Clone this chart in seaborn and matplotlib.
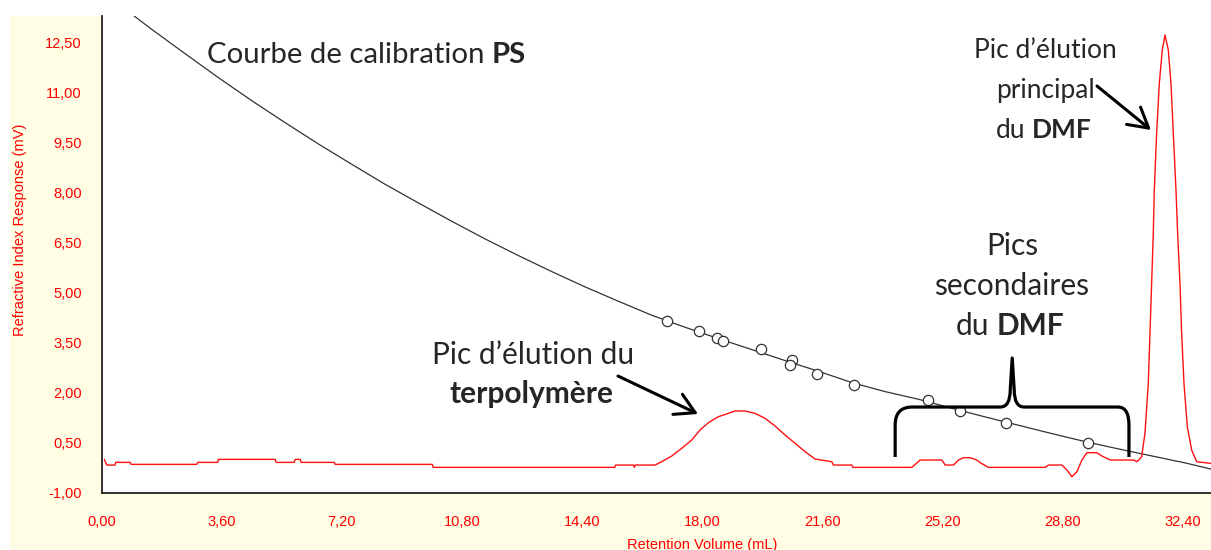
import matplotlib
matplotlib.use("Agg")
import matplotlib.pyplot as plt
import seaborn as sns
import pandas as pd
from matplotlib.patches import Rectangle, PathPatch
from matplotlib.path import Path
from matplotlib.ticker import FuncFormatter, MultipleLocator

# RI detector trace (mV) against retention volume (mL)
trace_volume = [0.08, 0.15, 0.40, 0.42, 0.85, 0.88, 2.85, 2.88, 3.48, 3.50, 5.20, 5.23, 5.77,
                5.80, 5.95, 5.98, 6.97, 7.00, 9.91, 9.94, 15.38, 15.41, 15.94, 15.97, 16.00,
                16.59, 16.79, 17.09, 17.39, 17.69, 17.94, 18.19, 18.49, 18.79, 18.99, 19.29,
                19.59, 19.89, 20.19, 20.49, 20.79, 21.09, 21.39, 21.89, 21.94, 22.49, 22.52,
                24.29, 24.54, 25.19, 25.29, 25.54, 25.69, 25.84, 26.04, 26.24, 26.34, 26.59,
                28.29, 28.39, 28.79, 28.94, 29.09, 29.24, 29.39, 29.54, 29.84, 29.99, 30.24,
                30.94, 31.04, 31.14, 31.18, 31.28, 31.38, 31.43, 31.48, 31.53, 31.56, 31.63,
                31.71, 31.80, 31.88, 31.98, 32.06, 32.13, 32.21, 32.26, 32.33, 32.38, 32.45,
                32.55, 32.68, 32.83, 33.26]
trace_response = [0.00, -0.17, -0.17, -0.09, -0.09, -0.15, -0.15, -0.09, -0.09, 0.00, 0.00, -0.09, -0.09,
                  0.00, 0.00, -0.09, -0.09, -0.15, -0.15, -0.24, -0.24, -0.17, -0.17, -0.24, -0.17,
                  -0.17, -0.07, 0.10, 0.33, 0.58, 0.88, 1.10, 1.28, 1.38, 1.45, 1.45,
                  1.38, 1.23, 1.00, 0.73, 0.48, 0.23, 0.01, -0.07, -0.17, -0.17, -0.24,
                  -0.24, -0.02, -0.02, -0.17, -0.17, -0.02, 0.05, 0.05, -0.02, -0.10, -0.24,
                  -0.24, -0.17, -0.17, -0.32, -0.52, -0.37, -0.02, 0.20, 0.20, 0.10, -0.02,
                  -0.02, -0.07, 0.03, 0.08, 0.78, 2.28, 3.78, 5.28, 6.78, 8.08, 9.78,
                  11.28, 12.28, 12.73, 12.28, 11.28, 9.78, 8.08, 6.78, 5.28, 3.78, 2.28,
                  0.98, 0.28, -0.07, -0.12]

# PS calibration curve drawn over the chromatogram
calib_volume = [0.5, 1.5, 2.5, 3.5, 4.5, 5.5, 6.5, 7.5, 8.5, 9.5, 10.5, 11.5, 12.5, 13.5,
                14.5, 15.5, 16.5, 17.5, 18.5, 19.5, 20.5, 21.5, 22.5, 23.5, 24.5, 25.5,
                26.5, 27.5, 28.5, 29.5, 30.5, 31.5, 32.5, 33.3]
calib_value = [13.66, 12.90, 12.17, 11.45, 10.76, 10.10, 9.46, 8.85, 8.25, 7.69, 7.14, 6.61,
               6.11, 5.63, 5.17, 4.74, 4.32, 3.96, 3.62, 3.29, 2.96, 2.64, 2.30, 2.03, 1.80,
               1.53, 1.27, 1.02, 0.77, 0.53, 0.31, 0.10, -0.11, -0.30]

# PS standards
std_volume = [16.94, 17.90, 18.45, 18.62, 19.76, 20.69, 20.64, 21.45, 22.56, 24.77, 25.73, 27.12, 29.58]
std_value = [4.15, 3.85, 3.63, 3.54, 3.31, 2.98, 2.82, 2.57, 2.22, 1.78, 1.46, 1.10, 0.50]

x_ticks = [0.0, 3.6, 7.2, 10.8, 14.4, 18.0, 21.6, 25.2, 28.8, 32.4]
y_ticks = [-1.0, 0.5, 2.0, 3.5, 5.0, 6.5, 8.0, 9.5, 11.0, 12.5]

W, H = 1211, 550
PANEL = "#FFFDE3"
TICK_FONT = "Liberation Sans"
NOTE_FONT = "Lato"

sns.set_style("white")
plt.rcParams["font.family"] = [TICK_FONT, "DejaVu Sans"]

trace = pd.DataFrame({"volume": trace_volume, "response": trace_response})
calib = pd.DataFrame({"volume": calib_volume, "value": calib_value})
stds = pd.DataFrame({"volume": std_volume, "value": std_value})

fig = plt.figure(figsize=(W / 100, H / 100), dpi=100, facecolor="white")
fig.patches.append(Rectangle((10 / W, 0), 1, 1 - 16 / H, transform=fig.transFigure,
                             facecolor=PANEL, edgecolor="none", zorder=-1))
ax = fig.add_axes([101.7 / W, 1 - 492.7 / H, 1 - 101.7 / W, (492.7 - 16) / H])
ax.set_facecolor("white")

sns.lineplot(data=calib, x="volume", y="value", ax=ax, color="#333333", linewidth=0.9,
             estimator=None, sort=False)
sns.lineplot(data=trace, x="volume", y="response", ax=ax, color="#FF1010", linewidth=1.0,
             estimator=None, sort=False)
sns.scatterplot(data=stds, x="volume", y="value", ax=ax, s=55, facecolor="white",
                edgecolor="#333333", linewidth=0.9, zorder=5)

ax.set_xlim(0, 33.26)
ax.set_ylim(-1.0, 13.30)
ax.set_xticks(x_ticks)
ax.set_yticks(y_ticks)
ax.xaxis.set_minor_locator(MultipleLocator(0.36))
ax.yaxis.set_minor_locator(MultipleLocator(0.1))
comma = FuncFormatter(lambda v, _: f"{v:.2f}".replace(".", ","))
ax.xaxis.set_major_formatter(comma)
ax.yaxis.set_major_formatter(comma)
ax.tick_params(which="major", direction="out", length=12.2, width=1.0, color="#333333",
               labelcolor="red", labelsize=10.5)
ax.tick_params(which="minor", direction="out", length=6, width=1.0, color="#333333")
ax.tick_params(axis="x", which="major", pad=3.5)
ax.tick_params(axis="y", which="major", pad=2)
for side in ["top", "right"]:
    ax.spines[side].set_visible(False)
for side in ["left", "bottom"]:
    ax.spines[side].set_color("#222222")
    ax.spines[side].set_linewidth(1.3)
ax.set_xlabel("")
ax.set_ylabel("")

fig.text(20 / W, 1 - 230 / H, "Refractive Index Response (mV)", rotation=90, color="red",
         fontsize=10.5, ha="center", va="center")
fig.text(702 / W, 1 - 545 / H, "Retention Volume (mL)", color="red", fontsize=10.5,
         ha="center", va="center")

renderer = fig.canvas.get_renderer()


def note_line(xc, base, parts, size, ha="center"):
    # parts: list of (text, weight); positioned in reference pixels
    texts = [fig.text(0, 1 - base / H, s, fontsize=size, fontweight=w,
                      family=NOTE_FONT, va="baseline") for s, w in parts]
    widths = [t.get_window_extent(renderer).width for t in texts]
    probe = fig.text(0, 0, "a a", fontsize=size, family=NOTE_FONT)
    probe2 = fig.text(0, 0, "aa", fontsize=size, family=NOTE_FONT)
    gap = probe.get_window_extent(renderer).width - probe2.get_window_extent(renderer).width
    probe.remove()
    probe2.remove()
    total = sum(widths) + gap * (len(parts) - 1)
    x = xc - total / 2 if ha == "center" else xc
    for t, wd in zip(texts, widths):
        t.set_x(x / W)
        x += wd + gap


note_line(207, 63, [("Courbe de calibration", "normal"), ("PS", "bold")], 21.2, ha="left")
note_line(1045, 58, [("Pic d\u2019élution", "normal")], 19)
note_line(1046, 98, [("principal", "normal")], 19)
note_line(1044, 138, [("du", "normal"), ("DMF", "bold")], 19)
note_line(1012, 255, [("Pics", "normal")], 21.5)
note_line(1012, 295, [("secondaires", "normal")], 21.5)
note_line(1010, 335, [("du", "normal"), ("DMF", "bold")], 21.5)
note_line(533, 364, [("Pic d\u2019élution du", "normal")], 21.5)
note_line(531, 403, [("terpolymère", "bold")], 21.5)

arrow = dict(arrowstyle="->,head_length=0.7,head_width=0.4", color="black", lw=2.2,
             shrinkA=0, shrinkB=0, mutation_scale=20)
ax.annotate("", xy=(698, H - 414), xytext=(618, H - 376), xycoords="figure pixels",
            textcoords="figure pixels", arrowprops=arrow)
ax.annotate("", xy=(1151, H - 130), xytext=(1097, H - 86), xycoords="figure pixels",
            textcoords="figure pixels", arrowprops=arrow)

# curly brace over the secondary DMF peaks
brace_pts = [(23.79, 0.07), (23.79, 1.03), (23.79, 1.57), (24.30, 1.57), (26.94, 1.57),
             (27.24, 1.57), (27.24, 2.08), (27.30, 3.04), (27.36, 2.08), (27.36, 1.57),
             (27.66, 1.57), (30.47, 1.57), (30.80, 1.57), (30.80, 1.03), (30.80, 0.07)]
brace_codes = [Path.MOVETO, Path.LINETO, Path.CURVE3, Path.CURVE3, Path.LINETO,
               Path.CURVE3, Path.CURVE3, Path.LINETO, Path.LINETO, Path.CURVE3,
               Path.CURVE3, Path.LINETO, Path.CURVE3, Path.CURVE3, Path.LINETO]
ax.add_patch(PathPatch(Path(brace_pts, brace_codes), facecolor="none", edgecolor="black",
                       lw=2.3, capstyle="butt", joinstyle="round", zorder=6))

fig.savefig("out.png", dpi=100, facecolor=fig.get_facecolor())
